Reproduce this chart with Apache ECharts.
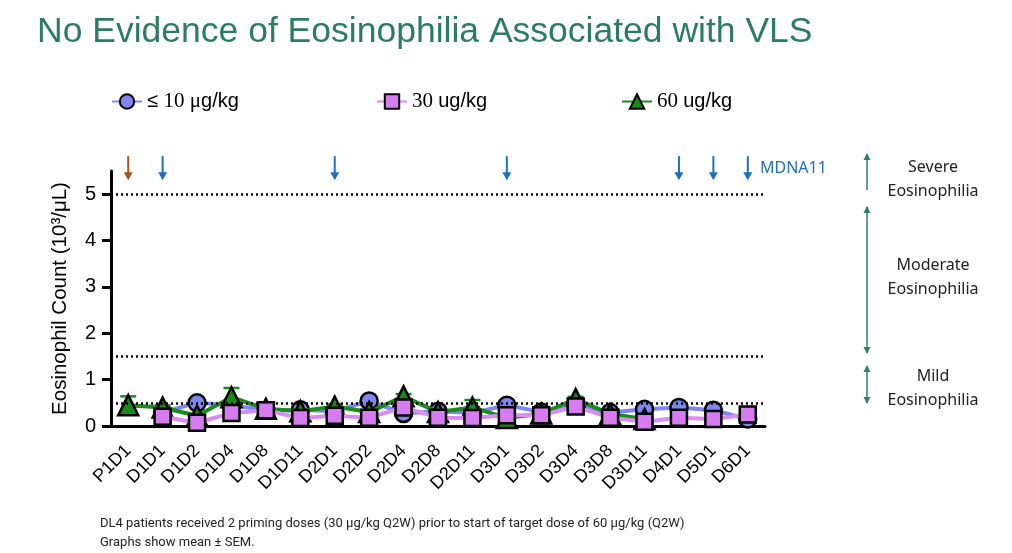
<!DOCTYPE html>
<html><head><meta charset="utf-8">
<script src="https://cdn.jsdelivr.net/npm/echarts@6/dist/echarts.min.js"></script>
<style>html,body{margin:0;padding:0;background:#fff}#c{width:1012px;height:553px}</style>
</head><body><div id="c"></div>
<script>
const categories = ['P1D1','D1D1','D1D2','D1D4','D1D8','D1D11','D2D1','D2D2','D2D4','D2D8','D2D11','D3D1','D3D2','D3D4','D3D8','D3D11','D4D1','D5D1','D6D1'];
const low10 = [null,0.30,0.50,0.45,0.34,0.35,0.32,0.54,0.27,0.32,0.28,0.45,0.30,0.45,0.29,0.36,0.40,0.34,0.15];
const mid30 = [null,0.20,0.07,0.28,0.34,0.17,0.22,0.18,0.40,0.18,0.17,0.23,0.23,0.42,0.18,0.09,0.18,0.15,0.25];
const high60 = [0.45,0.40,0.22,0.62,0.37,0.32,0.42,0.30,0.64,0.30,0.40,0.17,0.27,0.58,0.26,0.15,null,null,null];
const high60Sem = [0.19,0.05,0.05,0.20,0.04,0.04,0.05,0.04,0.05,0.04,0.16,0.04,0.04,0.05,0.04,0.04,null,null,null];
const yTicks = [0,1,2,3,4,5];
const thresholds = [0.5,1.5,5];
const doseDays = ['P1D1','D1D1','D2D1','D3D1','D4D1','D5D1','D6D1'];
const doseKinds = ['priming','target','target','target','target','target','target'];
const seriesNames = ['≤ 10 μg/kg','30 ug/kg','60 ug/kg'];

const chart = echarts.init(document.getElementById('c'));
const errData = [];
high60.forEach((v,i)=>{ if(v!=null && high60Sem[i]!=null) errData.push([i, v, high60Sem[i]]); });
const doseData = doseDays.map((d,i)=>[categories.indexOf(d), doseKinds[i]==='priming'?0:1]);

function legendText(name){
  if(name===seriesNames[0]) return '{s|≤ }{n|10 μ}{s|g/kg}';
  if(name===seriesNames[1]) return '{n|30 }{s|ug/kg}';
  return '{n|60 }{s|ug/kg}';
}
const legendRich = {
  s:{fontFamily:'Liberation Sans',fontSize:20,color:'#000'},
  n:{fontFamily:'Liberation Serif',fontSize:21,color:'#000'}
};
function mkLegend(name,left){
  return {data:[name],left:left,top:86,itemWidth:30,itemHeight:18,itemGap:0,
    formatter:legendText,textStyle:{rich:legendRich},selectedMode:false};
}

function vArrow(x,y1,y2,headTop,headBottom,color){
  const els=[{type:'line',shape:{x1:x,y1:y1,x2:x,y2:y2},style:{stroke:color,lineWidth:1.5}}];
  if(headTop) els.push({type:'polygon',shape:{points:[[x,y1-1],[x-3.5,y1+6],[x+3.5,y1+6]]},style:{fill:color}});
  if(headBottom) els.push({type:'polygon',shape:{points:[[x,y2+1],[x-3.5,y2-6],[x+3.5,y2-6]]},style:{fill:color}});
  return els;
}
const annColor='#2e8068';
const annFont='Noto Sans';
const graphics = [].concat(
  vArrow(867,154,190,true,false,annColor),
  vArrow(867,207,353,true,true,annColor),
  vArrow(867,366,403,true,true,annColor),
  [
    {type:'text',style:{text:'Severe\nEosinophilia',x:933,y:155,fill:'#222',font:'16px '+annFont,textAlign:'center',lineHeight:24}},
    {type:'text',style:{text:'Moderate\nEosinophilia',x:933,y:253,fill:'#222',font:'16px '+annFont,textAlign:'center',lineHeight:24}},
    {type:'text',style:{text:'Mild\nEosinophilia',x:933,y:364,fill:'#222',font:'16px '+annFont,textAlign:'center',lineHeight:24}},
    {type:'text',style:{text:'MDNA11',x:760,y:160,fill:'#1f6fc0',font:'16px '+annFont}},
    {type:'text',style:{text:'DL4 patients received 2 priming doses (30 μg/kg Q2W) prior to start of target dose of 60 μg/kg (Q2W)',x:100,y:517,fill:'#222',font:'13px Roboto'}},
    {type:'text',style:{text:'Graphs show mean ± SEM.',x:100,y:536,fill:'#222',font:'13px Roboto'}}
  ]
);

const option = {
  animation:false,
  title:{text:'No Evidence of Eosinophilia Associated with VLS',left:32,top:9,
    textStyle:{fontFamily:'Liberation Sans',fontSize:35.5,fontWeight:'normal',color:'#2b7c63'}},
  legend:[mkLegend(seriesNames[0],106),mkLegend(seriesNames[1],371),mkLegend(seriesNames[2],616)],
  grid:{left:111,right:247,top:171,bottom:127},
  xAxis:{type:'category',data:categories,boundaryGap:true,
    axisLine:{lineStyle:{color:'#000',width:3}},
    axisTick:{alignWithLabel:true,length:16,lineStyle:{color:'#000',width:3}},
    axisLabel:{rotate:45,fontSize:18,fontFamily:'Liberation Sans',color:'#000',margin:22,interval:0}},
  yAxis:{type:'value',min:0,max:5.5,interval:1,
    name:'Eosinophil Count (10³/μL)',nameLocation:'middle',nameGap:40,nameRotate:90,
    nameTextStyle:{fontSize:20.5,fontFamily:'Liberation Sans',color:'#000'},
    axisLine:{show:true,lineStyle:{color:'#000',width:3}},
    axisTick:{show:true,length:9,lineStyle:{color:'#000',width:3},customValues:yTicks},
    axisLabel:{fontSize:20,fontFamily:'Liberation Sans',color:'#000',margin:15,customValues:yTicks},
    splitLine:{show:false}},
  graphic:graphics,
  series:[
    {name:seriesNames[0],type:'line',data:low10,z:2,symbol:'circle',symbolSize:17,
      lineStyle:{color:'#7f86f2',width:4},itemStyle:{color:'#7f86f2',borderColor:'#000',borderWidth:2.5},
      markLine:{silent:true,symbol:'none',label:{show:false},
        lineStyle:{color:'#000',type:[2,3],width:2.5},data:thresholds.map(v=>({yAxis:v}))}},
    {name:'err',type:'custom',data:errData,z:3,renderItem:function(params,api){
      const c=api.coord([api.value(0),api.value(1)]);
      const t=api.coord([api.value(0),api.value(1)+api.value(2)]);
      const b=api.coord([api.value(0),api.value(1)-api.value(2)]);
      const st={stroke:'#1a8c1a',lineWidth:2.5};
      return {type:'group',children:[
        {type:'line',shape:{x1:c[0],y1:b[1],x2:c[0],y2:t[1]},style:st},
        {type:'line',shape:{x1:c[0]-8,y1:t[1],x2:c[0]+8,y2:t[1]},style:st}
      ]};
    }},
    {name:seriesNames[2],type:'line',data:high60,z:4,symbol:'triangle',symbolSize:20,
      lineStyle:{color:'#1a8c1a',width:4},itemStyle:{color:'#168a16',borderColor:'#000',borderWidth:2.5}},
    {name:seriesNames[1],type:'line',data:mid30,z:5,symbol:'rect',symbolSize:16,
      lineStyle:{color:'#d98cf2',width:4},itemStyle:{color:'#d67cf0',borderColor:'#000',borderWidth:2.5}},
    {name:'doses',type:'custom',data:doseData,z:6,clip:false,renderItem:function(params,api){
      const top=api.coord([api.value(0),5.82]);
      const tip=api.coord([api.value(0),5.3]);
      const col=api.value(1)===0?'#a0561f':'#1f6fc0';
      return {type:'group',children:[
        {type:'line',shape:{x1:top[0],y1:top[1],x2:top[0],y2:tip[1]-4},style:{stroke:col,lineWidth:2}},
        {type:'polygon',shape:{points:[[tip[0],tip[1]],[tip[0]-4.5,tip[1]-8],[tip[0]+4.5,tip[1]-8]]},style:{fill:col}}
      ]};
    }}
  ]
};
chart.setOption(option);
</script></body></html>
